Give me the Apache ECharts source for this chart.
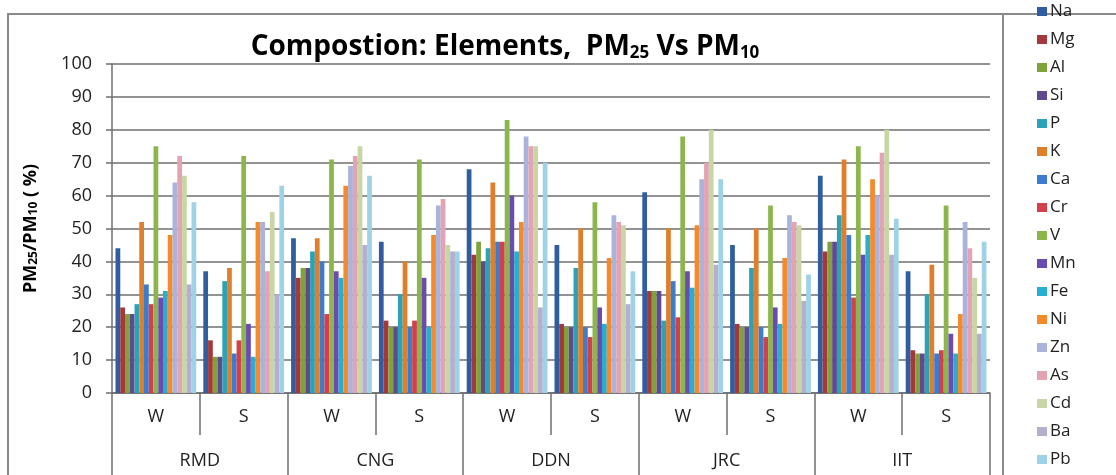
<!DOCTYPE html>
<html>
<head>
<meta charset="utf-8">
<script src="https://cdn.jsdelivr.net/npm/echarts@6/dist/echarts.min.js"></script>
<style>
html, body { margin: 0; padding: 0; background: #fff; }
#main { width: 1116px; height: 475px; }
</style>
</head>
<body>
<div id="main"></div>
<script>
var seasons = ['W', 'S', 'W', 'S', 'W', 'S', 'W', 'S', 'W', 'S'];
var sites = ['RMD', 'CNG', 'DDN', 'JRC', 'IIT'];
var yTicks = { min: 0, max: 100, step: 10 };

// one list per element, order: RMD W, RMD S, CNG W, CNG S, DDN W, DDN S, JRC W, JRC S, IIT W, IIT S
var Na = [44, 37, 47, 46, 68, 45, 61, 45, 66, 37];
var Mg = [26, 16, 35, 22, 42, 21, 31, 21, 43, 13];
var Al = [24, 11, 38, 20, 46, 20, 31, 20, 46, 12];
var Si = [24, 11, 38, 20, 40, 20, 31, 20, 46, 12];
var P  = [27, 34, 43, 30, 44, 38, 22, 38, 54, 30];
var K  = [52, 38, 47, 40, 64, 50, 50, 50, 71, 39];
var Ca = [33, 12, 40, 20, 46, 20, 34, 20, 48, 12];
var Cr = [27, 16, 24, 22, 46, 17, 23, 17, 29, 13];
var V  = [75, 72, 71, 71, 83, 58, 78, 57, 75, 57];
var Mn = [29, 21, 37, 35, 60, 26, 37, 26, 42, 18];
var Fe = [31, 11, 35, 20, 43, 21, 32, 21, 48, 12];
var Ni = [48, 52, 63, 48, 52, 41, 51, 41, 65, 24];
var Zn = [64, 52, 69, 57, 78, 54, 65, 54, 60, 52];
var As = [72, 37, 72, 59, 75, 52, 70, 52, 73, 44];
var Cd = [66, 55, 75, 45, 75, 51, 80, 51, 80, 35];
var Ba = [33, 30, 45, 43, 26, 27, 39, 28, 42, 18];
var Pb = [58, 63, 66, 43, 70, 37, 65, 36, 53, 46];

var elements = ['Na', 'Mg', 'Al', 'Si', 'P', 'K', 'Ca', 'Cr', 'V', 'Mn', 'Fe', 'Ni', 'Zn', 'As', 'Cd', 'Ba', 'Pb'];
var values = [Na, Mg, Al, Si, P, K, Ca, Cr, V, Mn, Fe, Ni, Zn, As, Cd, Ba, Pb];
var colors = ['#2f5d9f', '#a3393a', '#7fa23a', '#5e4a8c', '#2ba2b6', '#e07f2b',
	'#3d7bcc', '#d2404c', '#8cb64b', '#6a4bb1', '#27afd0', '#f58a2b',
	'#a9b3dc', '#e2a3b2', '#c7d6a4', '#b3b0cf', '#9fd1e7'];

var font = '"Open Sans", Lato, sans-serif';
var gridColor = '#6f6f6f';

var dom = document.getElementById('main');
var myChart = echarts.init(dom);

var series = elements.map(function (name, i) {
	return {
		name: name,
		type: 'bar',
		xAxisIndex: 0,
		barGap: '0%',
		barCategoryGap: '8%',
		itemStyle: { color: colors[i] },
		data: values[i]
	};
});

var option = {
	backgroundColor: '#fff',
	animation: false,
	color: colors,
	title: {
		left: 500,
		top: 27,
		textAlign: 'center',
		text: '{b|Compostion: Elements,  PM}{s|25}{b| Vs PM}{s|10}',
		textStyle: {
			rich: {
				b: { fontFamily: font, fontWeight: 'bold', fontSize: 28, color: '#000' },
				s: { fontFamily: font, fontWeight: 'bold', fontSize: 17, color: '#000', padding: [13, 0, 0, 0] }
			}
		}
	},
	legend: {
		orient: 'vertical',
		left: 1037,
		top: 3,
		padding: 0,
		itemWidth: 10,
		itemHeight: 9,
		itemGap: 11,
		icon: 'rect',
		textStyle: { fontFamily: font, fontSize: 17, color: '#222', padding: [0, 0, 0, -2] },
		data: elements
	},
	grid: {
		left: 112,
		right: 126,
		top: 64,
		bottom: 82,
		containLabel: false
	},
	xAxis: [{
		type: 'category',
		data: seasons,
		position: 'bottom',
		axisLine: { lineStyle: { color: gridColor, width: 1.5 } },
		axisTick: { show: true, length: 42, lineStyle: { color: gridColor, width: 1.5 } },
		axisLabel: { fontFamily: font, fontSize: 18, color: '#222', margin: 15 }
	}, {
		type: 'category',
		data: sites,
		position: 'bottom',
		axisLine: { show: false },
		axisTick: { show: true, length: 84, lineStyle: { color: gridColor, width: 1.5 } },
		axisLabel: { fontFamily: font, fontSize: 18, color: '#222', margin: 59 }
	}],
	yAxis: {
		type: 'value',
		min: yTicks.min,
		max: yTicks.max,
		interval: yTicks.step,
		name: '{b|PM}{s|25}{b|/PM}{s|10}{b| ( %)}',
		nameLocation: 'middle',
		nameRotate: 90,
		nameGap: 72,
		nameTextStyle: {
			rich: {
				b: { fontFamily: font, fontWeight: 'bold', fontSize: 18, color: '#000' },
				s: { fontFamily: font, fontWeight: 'bold', fontSize: 12, color: '#000', padding: [7, 0, 0, 0] }
			}
		},
		axisLine: { show: true, lineStyle: { color: gridColor, width: 1.5 } },
		axisTick: { show: true, length: 6, lineStyle: { color: gridColor, width: 1.5 } },
		axisLabel: { fontFamily: font, fontSize: 18, color: '#222', margin: 20 },
		splitLine: { lineStyle: { color: gridColor, width: 1.5 } }
	},
	graphic: [{
		type: 'rect',
		shape: { x: 8, y: 14, width: 1120, height: 470 },
		style: { fill: null, stroke: '#8a8a8a', lineWidth: 2 },
		silent: true
	}, {
		type: 'line',
		shape: { x1: 1003, y1: 14, x2: 1003, y2: 475 },
		style: { stroke: '#8a8a8a', lineWidth: 2 },
		silent: true
	}],
	series: series
};

if (option && typeof option === 'object') {
	myChart.setOption(option, true);
}
</script>
</body>
</html>
